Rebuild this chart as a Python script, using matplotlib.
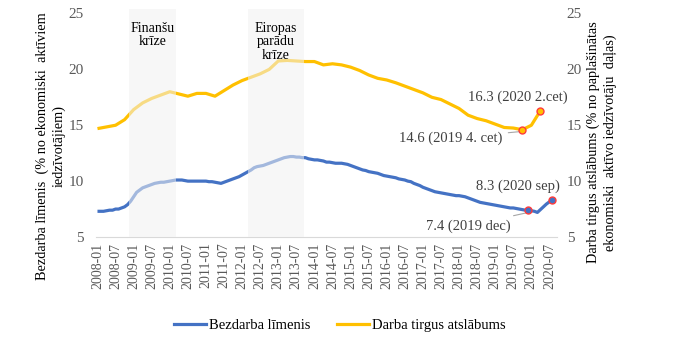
import numpy as np
import matplotlib.pyplot as plt

plt.rcParams['font.family'] = ['Liberation Serif', 'DejaVu Serif']

# mēneši 2008-01 ... 2020-09
months = ['%d-%02d' % (y, m) for y in range(2008, 2021) for m in range(1, 13)][:153]
tick_labels = months[::6][:26]

# bezdarba līmenis, mēneša dati 2008-01 ... 2020-08
unemployment = [
    7.3, 7.3, 7.3, 7.35, 7.4, 7.4, 7.5, 7.5, 7.6, 7.7, 7.9, 8.2,
    8.6, 9.0, 9.2, 9.4, 9.5, 9.6, 9.7, 9.8, 9.85, 9.9, 9.9, 9.95,
    10.0, 10.05, 10.1, 10.1, 10.1, 10.05, 10.0, 10.0, 10.0, 10.0, 10.0, 10.0,
    10.0, 9.95, 9.95, 9.9, 9.85, 9.8, 9.9, 10.0, 10.1, 10.2, 10.3, 10.4,
    10.55, 10.7, 10.85, 11.0, 11.2, 11.3, 11.35, 11.4, 11.5, 11.6, 11.7, 11.8,
    11.9, 12.0, 12.1, 12.15, 12.2, 12.2, 12.15, 12.15, 12.1, 12.1, 12.0, 11.95,
    11.9, 11.9, 11.85, 11.8, 11.7, 11.7, 11.65, 11.6, 11.6, 11.6, 11.55, 11.5,
    11.4, 11.3, 11.2, 11.1, 11.0, 10.95, 10.85, 10.8, 10.75, 10.7, 10.6, 10.5,
    10.45, 10.4, 10.35, 10.3, 10.2, 10.15, 10.1, 10.0, 9.95, 9.8, 9.7, 9.6,
    9.45, 9.35, 9.25, 9.15, 9.05, 9.0, 8.95, 8.9, 8.85, 8.8, 8.75, 8.7,
    8.7, 8.65, 8.6, 8.5, 8.4, 8.3, 8.2, 8.1, 8.05, 8.0, 7.95, 7.9,
    7.85, 7.8, 7.75, 7.7, 7.65, 7.6, 7.6, 7.55, 7.5, 7.45, 7.4, 7.4,
    7.35, 7.3, 7.2, 7.45, 7.7, 7.95, 8.15, 8.3,
]

# darba tirgus atslābums, ceturkšņa dati 2008Q1 ... 2020Q2
slack = [
    14.7, 14.85, 15.0, 15.5, 16.4, 17.0, 17.4, 17.7,
    18.0, 17.8, 17.6, 17.85, 17.85, 17.6, 18.1, 18.6,
    19.0, 19.3, 19.6, 20.0, 20.75, 20.8, 20.75, 20.7,
    20.7, 20.4, 20.5, 20.4, 20.2, 19.9, 19.5, 19.2,
    19.05, 18.8, 18.5, 18.2, 17.9, 17.5, 17.3, 16.9,
    16.5, 15.9, 15.6, 15.4, 15.1, 14.8, 14.75, 14.6,
    15.0, 16.3,
]

crises = [(10.5, 26.0, 'Finanšu\nkrīze'), (50.0, 68.5, 'Eiropas\nparādu\nkrīze')]

x_u = np.arange(len(unemployment))
x_s = np.arange(len(slack)) * 3

blue = '#4472C4'
yellow = '#FFC000'
gray = '#595959'

fig = plt.figure(figsize=(6.73, 3.47), dpi=100)
ax = fig.add_axes([0.1426, 0.317, 0.685, 0.657])

ax.plot(x_u, unemployment, color=blue, lw=2.3, solid_capstyle='butt', zorder=2)
ax.plot(x_s, slack, color=yellow, lw=2.3, solid_capstyle='butt', zorder=2)

for a, b, txt in crises:
    ax.axvspan(a, b, color='#F2F2F2', alpha=0.55, lw=0, zorder=3)
    ax.text((a + b) / 2, 24.25, txt, ha='center', va='top', fontsize=10,
            color='black', linespacing=1.05, zorder=4)

# punktu marķieri
pts = [(143, unemployment[143], blue), (151, unemployment[151], blue),
       (141, slack[47], yellow), (147, slack[49], yellow)]
for px, py, c in pts:
    ax.plot(px, py, 'o', ms=5, mfc=c, mec='#FF3B3B', mew=1.0, zorder=5)

ann = dict(fontsize=10.5, color='#404040')
ax.text(139.7, 9.5, '8.3 (2020 sep)', ha='center', va='center', **ann)
ax.text(139.6, 17.5, '16.3 (2020 2.cet)', ha='center', va='center', **ann)
ax.annotate('14.6 (2019 4. cet)', xy=(141, 14.45), xytext=(134.5, 13.85),
            ha='right', va='center',
            arrowprops=dict(arrowstyle='-', color='#A6A6A6', lw=0.8), **ann)
ax.annotate('7.4 (2019 dec)', xy=(143, 7.2), xytext=(137, 6.0),
            ha='right', va='center',
            arrowprops=dict(arrowstyle='-', color='#A6A6A6', lw=0.8), **ann)

ax.set_xlim(-0.5, 152.5)
ax.set_ylim(5, 25.4)
ax.set_yticks([5, 10, 15, 20, 25])
ax.set_xticks(np.arange(len(tick_labels)) * 6)
ax.set_xticklabels(tick_labels, rotation=90, fontsize=10, color=gray)
ax.tick_params(axis='y', labelsize=11, labelcolor=gray, length=0, pad=9)
ax.tick_params(axis='x', length=0, pad=4)
for s in ['top', 'right', 'left']:
    ax.spines[s].set_visible(False)
ax.spines['bottom'].set_color('#D9D9D9')

ax2 = ax.twinx()
ax2.set_ylim(5, 25.4)
ax2.set_yticks([5, 10, 15, 20, 25])
ax2.tick_params(axis='y', labelsize=11, labelcolor=gray, length=0, pad=7)
for s in ax2.spines.values():
    s.set_visible(False)

ax.set_ylabel('Bezdarba līmenis  (% no ekonomiski  aktīviem\niedzīvotājiem)',
              fontsize=10.3, linespacing=1.3)
ax.yaxis.set_label_coords(-0.066, 0.4)
ax2.set_ylabel('Darba tirgus atslābums (% no paplašinātas\nekonomiski  aktīvo iedzīvotāju  daļas)',
               fontsize=10.3, linespacing=1.3, rotation=90)
ax2.yaxis.set_label_coords(1.065, 0.415)

h1, = ax.plot([], [], color=blue, lw=2.3)
h2, = ax.plot([], [], color=yellow, lw=2.3)
fig.legend([h1, h2], ['Bezdarba līmenis', 'Darba tirgus atslābums'],
           loc='center', bbox_to_anchor=(0.505, 0.063), ncol=2, frameon=False,
           fontsize=10.5, handlelength=2.2, handletextpad=0.2, columnspacing=1.8)

fig.savefig('out.png', dpi=100)
